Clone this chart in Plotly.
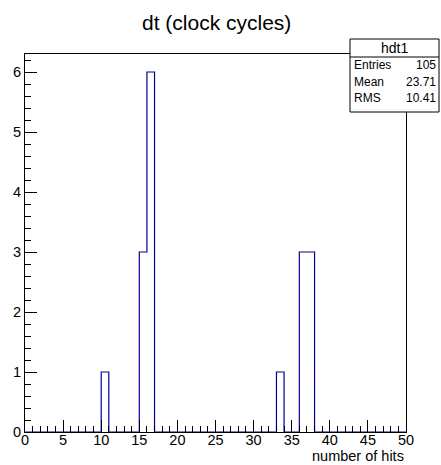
import numpy as np
import plotly.graph_objects as go

# ---- data ----
bin_edges = list(range(0, 51))  # 50 bins, 0..50
counts = [0] * 50
filled_bins = [10, 15, 16, 33, 36, 37]
filled_counts = [1, 3, 6, 1, 3, 3]
for b, c in zip(filled_bins, filled_counts):
    counts[b] = c

title_text = "dt (clock cycles)"
x_title = "number of hits"
stats_name = "hdt1"
stats_labels = ["Entries", "Mean", "RMS"]
stats_values = ["105", "23.71", "10.41"]

# ---- layout helpers (pixel -> paper) ----
W, H = 441, 465
L, R, T, B = 25, 406, 54, 432
def px(x):
    return (x - L) / (R - L)
def py(y):
    return (B - y) / (B - T)

step_x = bin_edges
step_y = counts + [counts[-1]]

fig = go.Figure()
fig.add_trace(go.Scatter(
    x=step_x, y=step_y, mode="lines", line=dict(shape="hv", color="#000099", width=1.2),
    hoverinfo="skip", showlegend=False,
))

font = "Liberation Sans, Arial, Helvetica, sans-serif"

fig.update_layout(
    width=W, height=H,
    margin=dict(l=L, r=W - R, t=T, b=H - B, pad=0),
    paper_bgcolor="white", plot_bgcolor="white",
    font=dict(family=font, color="black", size=14),
    showlegend=False,
    xaxis=dict(
        range=[0, 50], tickmode="linear", tick0=0, dtick=5,
        ticks="inside", ticklen=12, tickwidth=1, tickcolor="black",
        showline=True, linecolor="black", linewidth=1, mirror=True,
        showgrid=False, zeroline=False,
        tickfont=dict(size=14.5, family=font),
        ticklabelstandoff=-5,
        minor=dict(dtick=1, ticks="inside", ticklen=6, tickcolor="black", showgrid=False),
    ),
    yaxis=dict(
        range=[0, 6.3], tickmode="linear", tick0=0, dtick=1,
        ticks="inside", ticklen=12, tickwidth=1, tickcolor="black",
        showline=True, linecolor="black", linewidth=1, mirror=True,
        showgrid=False, zeroline=False,
        tickfont=dict(size=14.5, family=font),
        minor=dict(dtick=0.2, ticks="inside", ticklen=6, tickcolor="black", showgrid=False),
    ),
)

# title
fig.add_annotation(text=title_text, xref="paper", yref="paper", x=px(216), y=py(23),
                   xanchor="center", yanchor="middle", showarrow=False,
                   font=dict(size=21, family=font, color="black"))
# x axis title
fig.add_annotation(text=x_title, xref="paper", yref="paper", x=px(406), y=py(466),
                   xanchor="right", yanchor="bottom", showarrow=False,
                   font=dict(size=14.5, family=font, color="black"))

# stats box
bx0, bx1, by0, by1, bsep = 350, 439, 39, 112, 57
fig.add_shape(type="rect", xref="paper", yref="paper", x0=px(bx0), x1=px(bx1), y0=py(by1), y1=py(by0),
              line=dict(color="black", width=1), fillcolor="white", layer="above")
fig.add_shape(type="line", xref="paper", yref="paper", x0=px(bx0), x1=px(bx1), y0=py(bsep), y1=py(bsep),
              line=dict(color="black", width=1), layer="above")
fig.add_annotation(text=stats_name, xref="paper", yref="paper", x=px((bx0 + bx1) / 2), y=py(48),
                   xanchor="center", yanchor="middle", showarrow=False,
                   font=dict(size=14, family=font, color="black"))
row_y = [65, 82, 98]
for lab, val, ry in zip(stats_labels, stats_values, row_y):
    fig.add_annotation(text=lab, xref="paper", yref="paper", x=px(352), y=py(ry),
                       xanchor="left", yanchor="middle", showarrow=False,
                       font=dict(size=12, family=font, color="black"))
    fig.add_annotation(text=val, xref="paper", yref="paper", x=px(438), y=py(ry),
                       xanchor="right", yanchor="middle", showarrow=False,
                       font=dict(size=12, family=font, color="black"))

fig.write_html("out.html")
